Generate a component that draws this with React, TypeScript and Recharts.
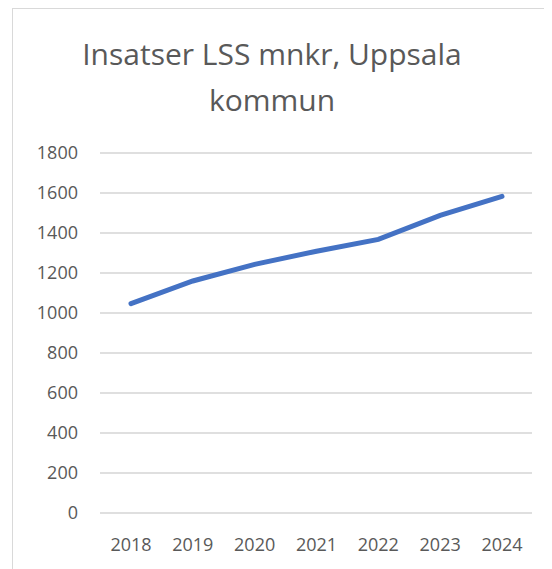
import React from 'react';
import { LineChart, Line, XAxis, YAxis, CartesianGrid } from 'recharts';

// values
const years = ['2018', '2019', '2020', '2021', '2022', '2023', '2024'];
const insatser = [1047, 1160, 1243, 1309, 1368, 1488, 1583];
const yTicks = [0, 200, 400, 600, 800, 1000, 1200, 1400, 1600, 1800];

const data = years.map((year, i) => ({ year, value: insatser[i] }));

const font = '"Open Sans", sans-serif';
const textColor = '#595959';

const App = () => {
  return (
    <div
      style={{
        position: 'relative',
        marginLeft: 4,
        width: 540,
        height: 561,
        borderLeft: '1px solid #d9d9d9',
        borderTop: '1px solid #d9d9d9',
        background: '#fff',
        fontFamily: font,
      }}
    >
      <div
        style={{
          position: 'absolute',
          left: 0,
          top: 22,
          width: 518,
          textAlign: 'center',
          fontSize: 30,
          lineHeight: '46px',
          color: textColor,
        }}
      >
        Insatser LSS mnkr, Uppsala
        <br />
        kommun
      </div>
      <LineChart
        width={540}
        height={561}
        data={data}
        margin={{ top: 144, right: 21, left: 0, bottom: 27 }}
      >
        <CartesianGrid stroke="#d4d4d4" strokeWidth={1.3} vertical={false} />
        <XAxis
          dataKey="year"
          axisLine={false}
          tickLine={false}
          height={30}
          padding={{ left: 31, right: 30 }}
          tickMargin={19}
          tick={{ fontSize: 18, fill: textColor, fontFamily: font }}
        />
        <YAxis
          width={87}
          domain={[0, 1800]}
          ticks={yTicks}
          axisLine={false}
          tickLine={false}
          tickMargin={16}
          tick={{ fontSize: 18, fill: textColor, fontFamily: font }}
        />
        <Line
          type="linear"
          dataKey="value"
          stroke="#4472c4"
          strokeWidth={5}
          strokeLinecap="round"
          dot={false}
          activeDot={false}
          isAnimationActive={false}
        />
      </LineChart>
    </div>
  );
};

export default App;
